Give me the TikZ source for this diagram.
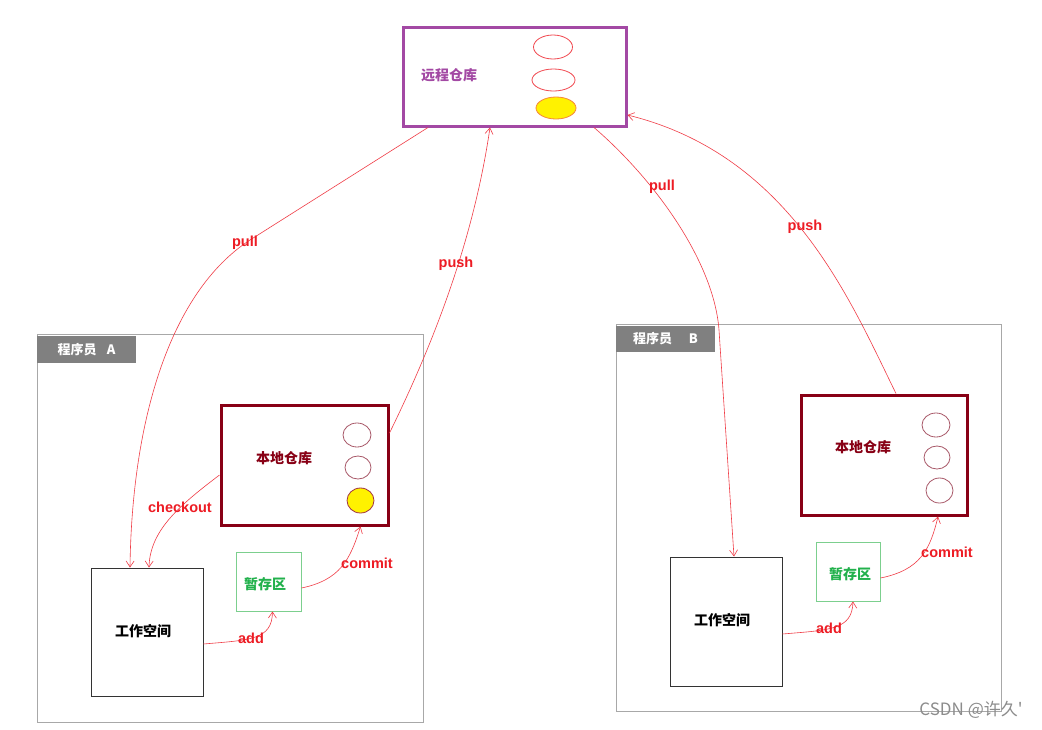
\documentclass[tikz,border=0pt]{standalone}
\usepackage{fontspec}
\setmainfont{Liberation Sans}
\newfontfamily\cjk{Noto Sans CJK SC}
\usetikzlibrary{arrows.meta,shapes.geometric}
\definecolor{purp}{HTML}{A349A4}
\definecolor{dred}{HTML}{880015}
\definecolor{grn}{HTML}{22B14C}
\definecolor{lgrn}{HTML}{7CCF8E}
\definecolor{lred}{HTML}{ED1C24}
\definecolor{arr}{HTML}{F03C46}
\definecolor{hdr}{HTML}{808080}
\definecolor{gbox}{HTML}{A8A8A8}
\definecolor{ylw}{HTML}{FFF200}
\definecolor{org}{HTML}{F5883A}
\definecolor{cred}{HTML}{A85868}
\tikzset{
  box/.style={rectangle, inner sep=0pt, anchor=center},
  grpbox/.style={box, draw=gbox, line width=1pt},
  hdrbox/.style={box, fill=hdr, text=white, font=\cjk\bfseries\fontsize{13}{15}\selectfont},
  repo/.style={box, draw=dred, line width=3pt},
  wbox/.style={box, draw=black!80, line width=1pt},
  sbox/.style={box, draw=lgrn, line width=1pt},
  cjklab/.style={font=\cjk\bfseries\fontsize{14}{16}\selectfont, inner sep=0pt},
  oplab/.style={font=\bfseries\fontsize{14.5}{16}\selectfont, text=lred, inner sep=0pt},
  conn/.style={draw=arr, line width=0.6pt, -{Straight Barb[length=6pt,width=8pt,line width=0.6pt]}},
  ell/.style={ellipse, inner sep=0pt, line width=0.8pt},
}
\begin{document}
\begin{tikzpicture}[x=1pt,y=-1pt]
\useasboundingbox[fill=white] (0,0) rectangle (1042,729);
% remote
\node[box, draw=purp, line width=3pt, minimum width=223pt, minimum height=99pt] (remote) at (514.5,76.5) {};
\node[cjklab, text=purp] (remotelab) at (449,75) {远程仓库};
\node[ell, draw=lred!80, minimum width=39pt, minimum height=24pt] (re1) at (553,47) {};
\node[ell, draw=lred!80, minimum width=43pt, minimum height=22pt] (re2) at (553.5,80) {};
\node[ell, draw=org, fill=ylw, minimum width=40pt, minimum height=22pt] (re3) at (556,108) {};
% group A
\node[grpbox, minimum width=386pt, minimum height=388pt] (grpA) at (230,528) {};
\node[hdrbox, minimum width=99pt, minimum height=27pt] (hdrA) at (86.5,349.5) {程序员\hspace{0.8em}A};
\node[repo, minimum width=167pt, minimum height=120pt] (localA) at (304.5,465) {};
\node[cjklab, text=dred] (localAlab) at (284,458) {本地仓库};
\node[ell, draw=cred, minimum width=28pt, minimum height=24pt] (la1) at (357,435) {};
\node[ell, draw=cred, minimum width=26pt, minimum height=23pt] (la2) at (358,467.5) {};
\node[ell, draw=dred!80, fill=ylw, minimum width=27pt, minimum height=25pt] (la3) at (360.5,500.5) {};
\node[wbox, minimum width=112pt, minimum height=128pt] (workA) at (147,632) {};
\node[cjklab, text=black] (workAlab) at (143,631) {工作空间};
\node[sbox, minimum width=65pt, minimum height=59pt] (stageA) at (268.5,581.5) {};
\node[cjklab, text=grn] (stageAlab) at (265,584) {暂存区};
% group B
\node[grpbox, minimum width=385pt, minimum height=387pt] (grpB) at (808.5,517.5) {};
\node[hdrbox, minimum width=99pt, minimum height=26pt] (hdrB) at (665.5,339) {程序员\hspace{1.3em}B};
\node[repo, minimum width=166pt, minimum height=120pt] (localB) at (884,455) {};
\node[cjklab, text=dred] (localBlab) at (863,447) {本地仓库};
\node[ell, draw=cred, minimum width=28pt, minimum height=24pt] (lb1) at (936,425) {};
\node[ell, draw=cred, minimum width=26pt, minimum height=23pt] (lb2) at (937,457.5) {};
\node[ell, draw=cred, minimum width=27pt, minimum height=25pt] (lb3) at (939.5,490.5) {};
\node[wbox, minimum width=112pt, minimum height=129pt] (workB) at (726,621.5) {};
\node[cjklab, text=black] (workBlab) at (722,620) {工作空间};
\node[sbox, minimum width=64pt, minimum height=59pt] (stageB) at (848,571.5) {};
\node[cjklab, text=grn] (stageBlab) at (850,574) {暂存区};
% connectors A
\coordinate (pullAmid) at (250,240);
\draw[conn] ([xshift=-86.5pt]remote.south) -- (pullAmid) .. controls (170,292) and (132,420) .. ([xshift=-17pt]workA.north);
\draw[conn] ([yshift=32pt]localA.east) .. controls (440,330) and (475,230) .. ([xshift=-24.5pt]remote.south);
\draw[conn] ([yshift=-10pt]localA.west) .. controls (180,505) and (150,530) .. ([xshift=2pt]workA.north);
\draw[conn] ([yshift=-6.5pt]stageA.east) .. controls (340,580) and (350,560) .. ([xshift=56pt]localA.south);
\draw[conn] ([yshift=-12pt]workA.east) .. controls (250,640) and (272,640) .. ([xshift=4pt]stageA.south);
% connectors B
\coordinate (pullBmid) at (719,330);
\draw[conn] ([xshift=79.5pt]remote.south) .. controls (655,180) and (714,262) .. (pullBmid) -- ([xshift=8pt]workB.north);
\draw[conn] ([xshift=12pt]localB.north) .. controls (850,300) and (790,155) .. ([yshift=-38.5pt]remote.east);
\draw[conn] ([yshift=-6.5pt]stageB.east) .. controls (920,570) and (930,550) .. ([xshift=54pt]localB.south);
\draw[conn] ([yshift=-12.5pt]workB.east) .. controls (830,630) and (852,630) .. ([xshift=5pt]stageB.south);
% labels
\node[oplab] (lpullA) at (245,243) {pull};
\node[oplab] (lpushA) at (456,264) {push};
\node[oplab] (lcheckout) at (180,507) {checkout};
\node[oplab] (lcommitA) at (367,563) {commit};
\node[oplab] (laddA) at (251,638) {add};
\node[oplab] (lpullB) at (662,187) {pull};
\node[oplab] (lpushB) at (805,227) {push};
\node[oplab] (lcommitB) at (947,552) {commit};
\node[oplab] (laddB) at (829,628) {add};
% watermark
\node[font=\cjk\fontsize{17}{19}\selectfont, text=black!45, inner sep=0pt] (wm) at (971,710) {CSDN @许久'};
\end{tikzpicture}
\end{document}
